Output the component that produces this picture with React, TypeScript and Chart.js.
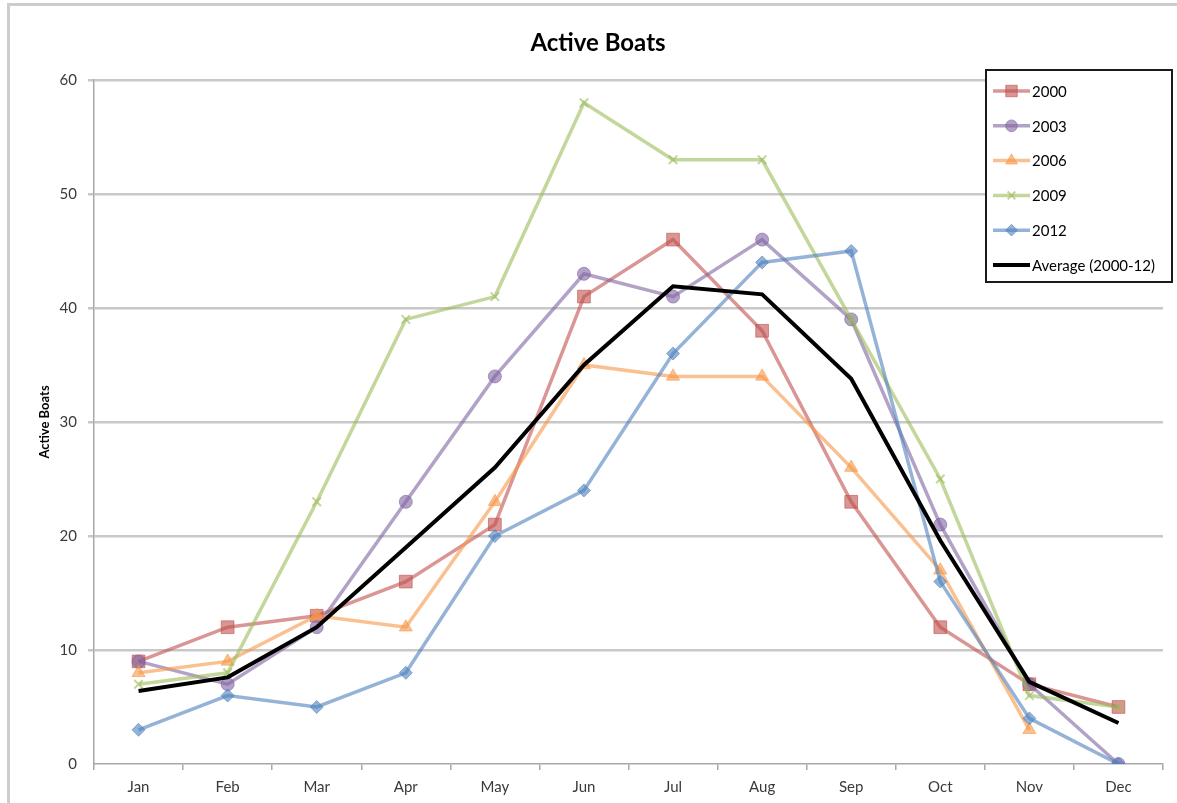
import React, { useEffect, useRef } from 'react';
import { Chart, registerables } from 'chart.js';

Chart.register(...registerables);

const months = ['Jan', 'Feb', 'Mar', 'Apr', 'May', 'Jun', 'Jul', 'Aug', 'Sep', 'Oct', 'Nov', 'Dec'];
const boats2000 = [9, 12, 13, 16, 21, 41, 46, 38, 23, 12, 7, 5];
const boats2003 = [9, 7, 12, 23, 34, 43, 41, 46, 39, 21, 7, 0];
const boats2006 = [8, 9, 13, 12, 23, 35, 34, 34, 26, 17, 3, null];
const boats2009 = [7, 8, 23, 39, 41, 58, 53, 53, 39, 25, 6, 5];
const boats2012 = [3, 6, 5, 8, 20, 24, 36, 44, 45, 16, 4, 0];
const boatsAverage = [6.4, 7.6, 12, 19, 26, 35, 41.9, 41.2, 33.8, 19.6, 7.2, 3.6];

const seriesLabels = ['2000', '2003', '2006', '2009', '2012'];
const averageLabel = 'Average (2000-12)';
const chartTitle = 'Active Boats';
const yTitle = 'Active Boats';
const yTicks = [0, 10, 20, 30, 40, 50, 60];

const seriesValues = [boats2000, boats2003, boats2006, boats2009, boats2012];
const seriesColors = [
  'rgba(192,80,77,0.6)',
  'rgba(128,100,162,0.6)',
  'rgba(247,150,70,0.6)',
  'rgba(155,187,89,0.6)',
  'rgba(79,129,189,0.6)',
];
const seriesStyles = ['rect', 'circle', 'triangle', 'crossRot', 'rectRot'];
const seriesRadii = [9, 6.5, 7.5, 6, 6.5];

const FONT = 'Lato, "Open Sans", sans-serif';

function drawMarker(ctx: CanvasRenderingContext2D, style: string, x: number, y: number, r: number, color: string) {
  ctx.save();
  ctx.fillStyle = color;
  ctx.strokeStyle = color;
  ctx.lineWidth = style === 'crossRot' ? 2 : 1;
  ctx.beginPath();
  if (style === 'rect') {
    const s = r * Math.SQRT1_2;
    ctx.rect(x - s, y - s, 2 * s, 2 * s);
  } else if (style === 'circle') {
    ctx.arc(x, y, r, 0, Math.PI * 2);
  } else if (style === 'triangle') {
    ctx.moveTo(x, y - r);
    ctx.lineTo(x + r * 0.87, y + r * 0.5);
    ctx.lineTo(x - r * 0.87, y + r * 0.5);
    ctx.closePath();
  } else if (style === 'rectRot') {
    ctx.moveTo(x, y - r);
    ctx.lineTo(x + r, y);
    ctx.lineTo(x, y + r);
    ctx.lineTo(x - r, y);
    ctx.closePath();
  } else if (style === 'crossRot') {
    const s = r * Math.SQRT1_2;
    ctx.moveTo(x - s, y - s);
    ctx.lineTo(x + s, y + s);
    ctx.moveTo(x + s, y - s);
    ctx.lineTo(x - s, y + s);
  }
  if (style !== 'crossRot') ctx.fill();
  ctx.stroke();
  ctx.restore();
}

const decorPlugin = {
  id: 'decor',
  beforeDraw(chart: any) {
    const ctx = chart.ctx as CanvasRenderingContext2D;
    ctx.save();
    ctx.fillStyle = '#ffffff';
    ctx.fillRect(0, 0, chart.width, chart.height);
    ctx.fillStyle = '#cdcdcd';
    ctx.fillRect(7, 3, chart.width - 7, 3);
    ctx.fillRect(7, 3, 3, chart.height - 3);
    ctx.fillStyle = '#000000';
    ctx.font = `bold 24px ${FONT}`;
    ctx.textAlign = 'center';
    ctx.textBaseline = 'middle';
    ctx.fillText(chartTitle, 598, 43);
    ctx.restore();
  },
  afterDraw(chart: any) {
    const ctx = chart.ctx as CanvasRenderingContext2D;
    ctx.save();
    const bx = 986, by = 70, bw = 186, bh = 212;
    ctx.fillStyle = '#ffffff';
    ctx.fillRect(bx, by, bw, bh);
    ctx.strokeStyle = '#1a1a1a';
    ctx.lineWidth = 2;
    ctx.strokeRect(bx, by, bw, bh);
    ctx.font = `15px ${FONT}`;
    ctx.textAlign = 'left';
    ctx.textBaseline = 'middle';
    const entries = [...seriesLabels, averageLabel];
    entries.forEach((label, i) => {
      const y = 91 + i * 34.8;
      const isAvg = i === seriesLabels.length;
      const color = isAvg ? '#000000' : seriesColors[i];
      ctx.strokeStyle = color;
      ctx.lineWidth = isAvg ? 4 : 3.5;
      ctx.beginPath();
      ctx.moveTo(993, y);
      ctx.lineTo(1030, y);
      ctx.stroke();
      if (!isAvg) drawMarker(ctx, seriesStyles[i], 1011.5, y, seriesRadii[i] * 0.9, color);
      ctx.fillStyle = '#000000';
      ctx.fillText(label, 1032, y + 1);
    });
    ctx.restore();
  },
};

export default function App() {
  const canvasRef = useRef<HTMLCanvasElement | null>(null);

  useEffect(() => {
    const canvas = canvasRef.current;
    if (!canvas) return;
    const datasets: any[] = seriesValues.map((vals, i) => ({
      label: seriesLabels[i],
      data: vals,
      borderColor: seriesColors[i],
      backgroundColor: seriesColors[i],
      borderWidth: 3.5,
      pointStyle: seriesStyles[i],
      pointRadius: seriesRadii[i],
      pointBackgroundColor: seriesColors[i],
      pointBorderColor: seriesColors[i],
      pointBorderWidth: seriesStyles[i] === 'crossRot' ? 2 : 1,
      tension: 0,
      spanGaps: false,
      order: 10 - i,
    }));
    datasets.push({
      label: averageLabel,
      data: boatsAverage,
      borderColor: '#000000',
      backgroundColor: '#000000',
      borderWidth: 4,
      pointRadius: 0,
      tension: 0,
      order: 1,
    });

    const chart = new Chart(canvas, {
      type: 'line',
      data: { labels: months, datasets },
      plugins: [decorPlugin],
      options: {
        animation: false,
        responsive: false,
        devicePixelRatio: 1,
        layout: { padding: { top: 80, right: 14, left: 0, bottom: 0 } },
        plugins: {
          legend: { display: false },
          title: { display: false },
          tooltip: { enabled: false },
        },
        scales: {
          x: {
            type: 'category',
            offset: true,
            grid: {
              display: true,
              drawOnChartArea: false,
              drawTicks: true,
              tickLength: 6,
              color: '#a8a8a8',
              lineWidth: 1.5,
              offset: true,
            },
            border: { display: true, color: '#a8a8a8', width: 1.5 },
            ticks: {
              color: '#3a3a3a',
              font: { family: FONT, size: 15 },
              padding: 8,
              maxRotation: 0,
              autoSkip: false,
            },
            afterFit: (scale: any) => {
              scale.height = 39;
            },
          },
          y: {
            min: 0,
            max: 60,
            afterBuildTicks: (scale: any) => {
              scale.ticks = yTicks.map((v) => ({ value: v }));
            },
            grid: {
              display: true,
              drawTicks: true,
              tickLength: 6,
              color: (c: any) => (c.tick && c.tick.value === 0 ? 'rgba(0,0,0,0)' : '#c8c8c8'),
              lineWidth: 2.5,
            },
            border: { display: true, color: '#a8a8a8', width: 1.5 },
            ticks: {
              color: '#3a3a3a',
              font: { family: FONT, size: 15 },
              padding: 11,
            },
            title: {
              display: true,
              text: yTitle,
              color: '#000000',
              font: { family: FONT, size: 13, weight: 'bold' },
              padding: { top: 37, bottom: 0 },
            },
            afterFit: (scale: any) => {
              scale.width = 94;
            },
          },
        },
      } as any,
    });
    return () => chart.destroy();
  }, []);

  return (
    <div style={{ position: 'absolute', left: 0, top: 0, width: 1177, height: 803 }}>
      <canvas ref={canvasRef} width={1177} height={803} style={{ display: 'block' }} />
    </div>
  );
}
